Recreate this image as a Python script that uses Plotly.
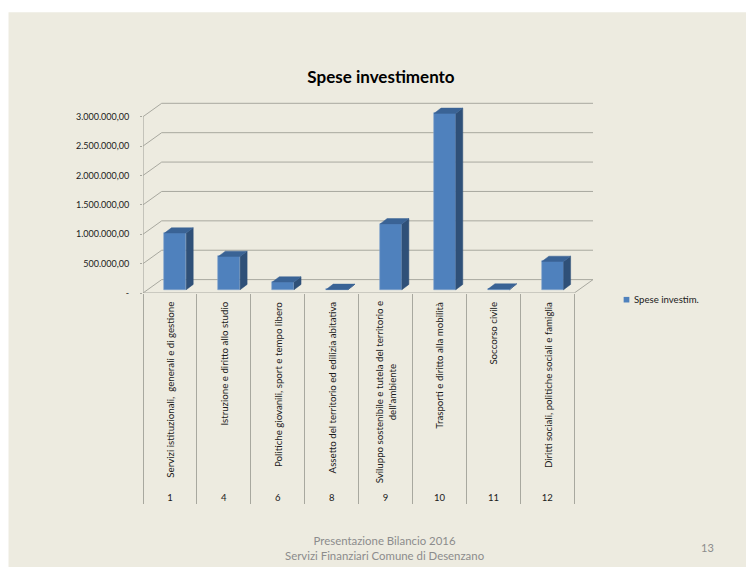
import plotly.graph_objects as go

codes = ["1", "4", "6", "8", "9", "10", "11", "12"]
labels = [
    "Servizi istituzionali,  generali e di gestione",
    "Istruzione e diritto allo studio",
    "Politiche giovanili, sport e tempo libero",
    "Assetto del territorio ed edilizia abitativa",
    "Sviluppo sostenibile e tutela del territorio e<br>dell'ambiente",
    "Trasporti e diritto alla mobilità",
    "Soccorso civile",
    "Diritti sociali, politiche sociali e famiglia",
]
values = [963000, 566000, 130000, 5000, 1120000, 3000000, 10000, 480000]
y_ticks = [0, 500000, 1000000, 1500000, 2000000, 2500000, 3000000]
y_labels = ["-", "500.000,00", "1.000.000,00", "1.500.000,00", "2.000.000,00", "2.500.000,00", "3.000.000,00"]
series_name = "Spese investim."

W, H = 746, 567
L, R, T, B = 143.3, 592.7, 101.0, 293.3
PX_PER_UNIT = 176.6 / 3000000
CAT_W = 53.9
n = len(codes)
wall_dx = 18.7 / CAT_W
wall_dy = 13.4 / PX_PER_UNIT
bar_w = 0.403
bar_shift = 0.1
bar_dx = 7.0 / CAT_W
bar_dy = 5.3 / PX_PER_UNIT
bar_base = 3.3 / PX_PER_UNIT

GRID = "#A8A89F"
SLIDE = "#EDEBE0"
FRONT = "#4F81BD"
SIDE = "#2F5078"
TOP = "#3A6395"
FONT = "Lato"


def px(x):
    return (x - L) / (R - L)


def py(y):
    return (B - y) / (B - T)


y_top = (B - T) / PX_PER_UNIT
x_max = n + wall_dx

shapes = [
    dict(type="rect", xref="paper", yref="paper", layer="below",
         x0=px(9), x1=px(W + 2), y0=py(H + 2), y1=py(12),
         line=dict(width=0), fillcolor=SLIDE),
    dict(type="rect", xref="paper", yref="paper", layer="above",
         x0=px(623.3), x1=px(629), y0=py(302.8), y1=py(297.2),
         line=dict(width=0), fillcolor=FRONT),
]
for v in y_ticks:
    shapes.append(dict(type="line", xref="x", yref="y", layer="below",
                       x0=0, x1=wall_dx, y0=v, y1=v + wall_dy, line=dict(color=GRID, width=1)))
    shapes.append(dict(type="line", xref="x", yref="y", layer="below",
                       x0=wall_dx, x1=x_max, y0=v + wall_dy, y1=v + wall_dy, line=dict(color=GRID, width=1)))
shapes.append(dict(type="line", xref="x", yref="y", layer="below",
                   x0=n, x1=x_max, y0=0, y1=wall_dy, line=dict(color=GRID, width=1)))

fig = go.Figure()

centers = [i + 0.5 + bar_shift for i in range(n)]
fig.add_trace(go.Bar(
    x=centers, y=values, base=bar_base, width=bar_w, name=series_name,
    marker=dict(color=FRONT, line=dict(color="#7FA3CF", width=0.6)),
    hoverinfo="skip", showlegend=False,
))

for c, v in zip(centers, values):
    x0, x1 = c - bar_w / 2, c + bar_w / 2
    base, top = bar_base, bar_base + v
    fig.add_trace(go.Scatter(
        x=[x1, x1 + bar_dx, x1 + bar_dx, x1, x1], y=[base, base + bar_dy, top + bar_dy, top, base],
        mode="lines", fill="toself", fillcolor=SIDE, line=dict(color=SIDE, width=0.5),
        showlegend=False, hoverinfo="skip"))
    fig.add_trace(go.Scatter(
        x=[x0, x0 + bar_dx, x1 + bar_dx, x1, x0], y=[top, top + bar_dy, top + bar_dy, top, top],
        mode="lines", fill="toself", fillcolor=TOP, line=dict(color=TOP, width=0.5),
        showlegend=False, hoverinfo="skip"))

# front floor edge and value axis line
fig.add_trace(go.Scatter(x=[0, n], y=[0, 0], mode="lines", line=dict(color=GRID, width=1.2),
                         cliponaxis=False, showlegend=False, hoverinfo="skip"))
fig.add_trace(go.Scatter(x=[0, 0], y=[0, y_ticks[-1]], mode="lines", line=dict(color=GRID, width=1.2),
                         cliponaxis=False, showlegend=False, hoverinfo="skip"))

annotations = [
    dict(text=lab, textangle=-90, xref="x", yref="paper", x=i + 0.5,
         y=py(300), xanchor="center", yanchor="top", align="center",
         showarrow=False, font=dict(family=FONT, size=9.7, color="#1A1A1A"))
    for i, lab in enumerate(labels)
]
annotations += [
    dict(text=series_name, xref="paper", yref="paper", x=px(631.5), y=py(300),
         xanchor="left", yanchor="middle", showarrow=False,
         font=dict(family=FONT, size=9.6, color="#1A1A1A")),
    dict(text="Presentazione Bilancio 2016<br>Servizi Finanziari Comune di Desenzano",
         xref="paper", yref="paper", x=px(384), y=py(548.5),
         xanchor="center", yanchor="middle", align="center", showarrow=False,
         font=dict(family=FONT, size=11.4, color="#8C8C8C")),
    dict(text="13", xref="paper", yref="paper", x=px(707), y=py(548),
         xanchor="center", yanchor="middle", showarrow=False,
         font=dict(family=FONT, size=11, color="#8C8C8C")),
]

fig.update_layout(
    width=W, height=H,
    margin=dict(l=L, r=W - R, t=T, b=H - B, pad=0, autoexpand=False),
    paper_bgcolor="white", plot_bgcolor="rgba(0,0,0,0)",
    title=dict(text="<b>Spese investimento</b>", x=381 / W, xanchor="center", y=1 - 77 / H, yanchor="middle",
               font=dict(family=FONT, size=17, color="black")),
    shapes=shapes, annotations=annotations, bargap=0, showlegend=False,
    font=dict(family=FONT),
)
fig.update_xaxes(
    range=[0, x_max], showgrid=False, zeroline=False, showline=False, automargin=False,
    tickmode="array", tickvals=[i + 0.5 for i in range(n)], ticktext=codes, ticks="",
    ticklabelstandoff=197, tickfont=dict(family=FONT, size=9.5, color="#1A1A1A"),
    minor=dict(tickmode="linear", tick0=0, dtick=1, ticks="outside", ticklen=210, tickcolor=GRID, tickwidth=1, showgrid=False),
)
fig.update_yaxes(
    range=[0, y_top], showgrid=False, zeroline=False, showline=False, automargin=False,
    tickmode="array", tickvals=y_ticks, ticktext=y_labels, ticks="outside", ticklen=2,
    tickcolor=GRID, tickwidth=1, tickfont=dict(family=FONT, size=9, color="#1A1A1A"),
    ticklabelstandoff=9,
)
fig.write_html("out.html", config=dict(displayModeBar=False),
               post_script="document.body.style.margin='0';document.documentElement.style.overflow='hidden';")
